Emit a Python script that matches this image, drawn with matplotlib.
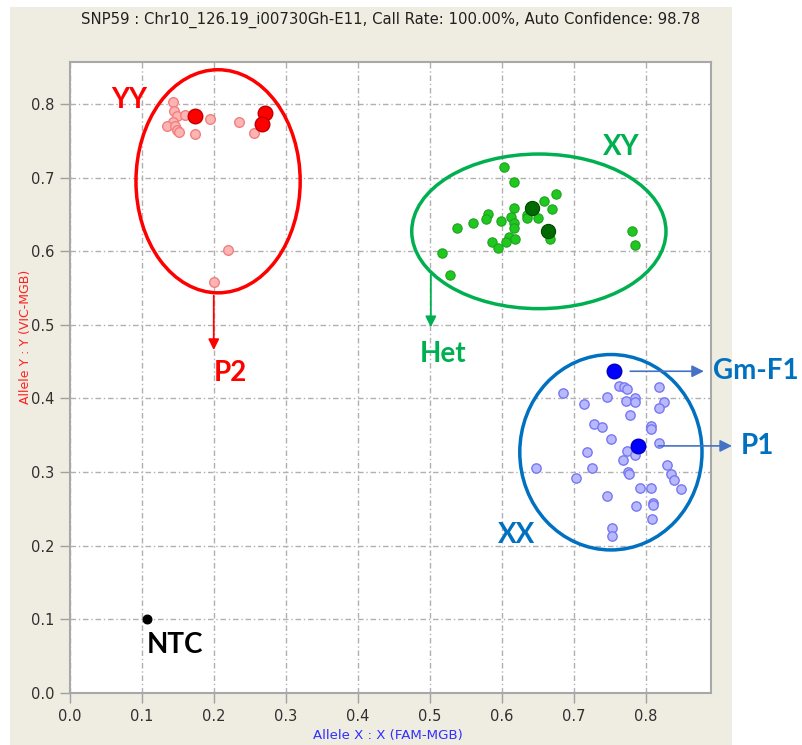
import matplotlib
matplotlib.use('Agg')
import matplotlib.pyplot as plt
from matplotlib.patches import Ellipse, Rectangle

# YY cluster (light samples + parental/control points)
yy_x = [0.1435, 0.1444, 0.148, 0.160, 0.1426, 0.134, 0.146, 0.149, 0.152, 0.174, 0.194, 0.235, 0.256, 0.220, 0.1996]
yy_y = [0.802, 0.790, 0.783, 0.785, 0.776, 0.770, 0.770, 0.764, 0.762, 0.759, 0.779, 0.775, 0.760, 0.602, 0.558]
yy_big_x = [0.174, 0.271, 0.267]
yy_big_y = [0.783, 0.788, 0.773]

# XY cluster
xy_x = [0.602, 0.616, 0.675, 0.658, 0.617, 0.669, 0.581, 0.578, 0.559, 0.538, 0.599, 0.6125, 0.616, 0.616,
        0.634, 0.635, 0.650, 0.609, 0.618, 0.606, 0.586, 0.594, 0.666, 0.517, 0.528, 0.780, 0.784]
xy_y = [0.714, 0.694, 0.678, 0.668, 0.659, 0.658, 0.651, 0.644, 0.638, 0.632, 0.641, 0.646, 0.639, 0.632,
        0.649, 0.645, 0.645, 0.620, 0.617, 0.612, 0.612, 0.604, 0.616, 0.598, 0.568, 0.627, 0.609]
xy_big_x = [0.641, 0.664]
xy_big_y = [0.659, 0.627]

# XX cluster
xx_x = [0.684, 0.714, 0.746, 0.7625, 0.769, 0.773, 0.818, 0.772, 0.785, 0.785, 0.825, 0.818, 0.777, 0.728,
        0.739, 0.807, 0.806, 0.751, 0.818, 0.773, 0.784, 0.768, 0.718, 0.647, 0.7245, 0.703, 0.775, 0.776,
        0.829, 0.834, 0.839, 0.849, 0.792, 0.806, 0.745, 0.810, 0.809, 0.786, 0.808, 0.752, 0.752]
xx_y = [0.408, 0.393, 0.402, 0.417, 0.415, 0.4125, 0.415, 0.397, 0.400, 0.395, 0.395, 0.387, 0.378, 0.3655,
        0.361, 0.363, 0.359, 0.3455, 0.340, 0.329, 0.323, 0.317, 0.327, 0.306, 0.306, 0.292, 0.300, 0.297,
        0.310, 0.297, 0.289, 0.277, 0.279, 0.279, 0.267, 0.2586, 0.256, 0.2545, 0.236, 0.2238, 0.2133]
gmf1_x, gmf1_y = 0.7555, 0.437
p1_x, p1_y = 0.789, 0.3356

ntc_x, ntc_y = 0.1065, 0.100

title = "SNP59 : Chr10_126.19_i00730Gh-E11, Call Rate: 100.00%, Auto Confidence: 98.78"

W, H = 803, 745
fig = plt.figure(figsize=(W / 100, H / 100), dpi=100)
fig.patch.set_facecolor('white')
fig.patches.append(Rectangle((10 / W, 0), (732 - 10) / W, (H - 7) / H, transform=fig.transFigure,
                             facecolor='#efede2', edgecolor='none', zorder=-1))

ax = fig.add_axes([70 / W, 1 - 693 / H, 641 / W, 631 / H])
ax.set_zorder(1)
ax.set_facecolor('white')
ax.set_xlim(0, 0.89)
ax.set_ylim(0, 0.857)
ax.set_xticks([i / 10 for i in range(9)])
ax.set_yticks([i / 10 for i in range(9)])
ax.set_xticklabels([f'{i / 10:.1f}' for i in range(9)])
ax.set_yticklabels([f'{i / 10:.1f}' for i in range(9)])
ax.tick_params(length=7.5, width=1, color='#a0a0a0', labelsize=10.5, labelcolor='#303030', pad=4)
for s in ax.spines.values():
    s.set_color('#a8a8a8')
    s.set_linewidth(1.5)
ax.grid(True, color='#b0b0b0', linewidth=1, linestyle=(0, (4, 2, 1, 2)))
ax.set_axisbelow(True)

# points
ax.scatter(yy_x, yy_y, s=48, facecolor='#ffb4b4', edgecolor='#f08080', linewidth=1, zorder=3)
ax.scatter(yy_big_x, yy_big_y, s=110, facecolor='#ff0000', edgecolor='#c00000', linewidth=1, zorder=4)
ax.scatter(xy_x, xy_y, s=45, facecolor='#1ec81e', edgecolor='#20a020', linewidth=0.8, zorder=3)
ax.scatter(xy_big_x, xy_big_y, s=105, facecolor='#006a00', edgecolor='#004a00', linewidth=0.8, zorder=4)
ax.scatter(xx_x, xx_y, s=45, facecolor='#b8b8ff', edgecolor='#7878f0', linewidth=1, zorder=3)
ax.scatter([gmf1_x, p1_x], [gmf1_y, p1_y], s=110, facecolor='#0000ff', edgecolor='#0000c0', linewidth=1, zorder=4)
ax.scatter([ntc_x], [ntc_y], s=38, facecolor='black', edgecolor='black', zorder=4)

# cluster ellipses
ax.add_patch(Ellipse((0.2056, 0.695), 0.228, 0.303, fill=False, edgecolor='#ff0000', linewidth=2.5, zorder=5))
ax.add_patch(Ellipse((0.651, 0.627), 0.353, 0.210, fill=False, edgecolor='#00b050', linewidth=2.5, zorder=5))
ax.add_patch(Ellipse((0.751, 0.327), 0.253, 0.2654, fill=False, edgecolor='#0070c0', linewidth=2.5, zorder=5))

lab = dict(family=['Lato', 'DejaVu Sans'], fontweight='bold', fontsize=20, zorder=6)

ax.text(0.082, 0.806, 'YY', color='#ff0000', ha='center', va='center', **lab)
ax.text(0.766, 0.742, 'XY', color='#00b050', ha='center', va='center', **lab)
ax.text(0.594, 0.2147, 'XX', color='#0070c0', ha='left', va='center', **lab)
ax.text(0.107, 0.065, 'NTC', color='black', ha='left', va='center', **lab)

# arrows to labels
ax.annotate('', xy=(0.1996, 0.462), xytext=(0.1996, 0.5435),
            arrowprops=dict(arrowstyle='-|>', color='#ff0000', lw=1.3, mutation_scale=16), zorder=6)
ax.text(0.199, 0.435, 'P2', color='#ff0000', ha='left', va='center', **lab)

ax.annotate('', xy=(0.501, 0.493), xytext=(0.501, 0.572),
            arrowprops=dict(arrowstyle='-|>', color='#00b050', lw=1.3, mutation_scale=16), zorder=6)
ax.text(0.486, 0.461, 'Het', color='#00b050', ha='left', va='center', **lab)

ax.annotate('', xy=(0.884, gmf1_y), xytext=(0.774, gmf1_y), annotation_clip=False,
            arrowprops=dict(arrowstyle='-|>', color='#4472c4', lw=1.2, mutation_scale=18), zorder=6)
ax.text(0.893, gmf1_y, 'Gm-F1', color='#0070c0', ha='left', va='center', clip_on=False, **lab)

ax.annotate('', xy=(0.923, p1_y), xytext=(0.813, p1_y), annotation_clip=False,
            arrowprops=dict(arrowstyle='-|>', color='#4472c4', lw=1.2, mutation_scale=18), zorder=6)
ax.text(0.931, p1_y, 'P1', color='#0070c0', ha='left', va='center', clip_on=False, **lab)

fig.text(391 / W, 1 - 20 / H, title, ha='center', va='center', fontsize=10.7, color='#202020')
fig.text(388 / W, 1 - 736 / H, 'Allele X : X (FAM-MGB)', ha='center', va='center', fontsize=9.6, color='#3030ff')
fig.text(26 / W, 1 - 337 / H, 'Allele Y : Y (VIC-MGB)', ha='center', va='center', fontsize=9,
         color='#ff2020', rotation=90)

fig.savefig('out.png', dpi=100)
